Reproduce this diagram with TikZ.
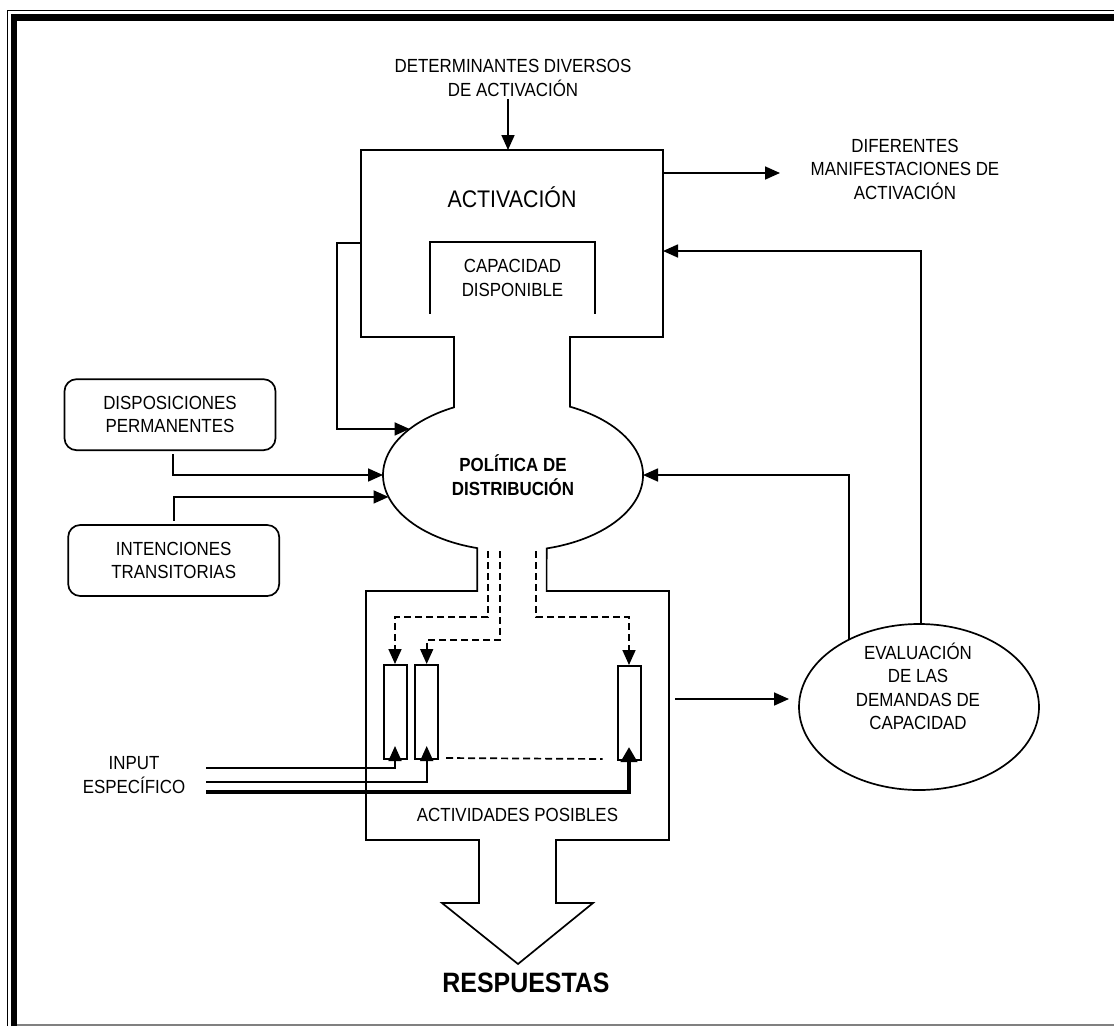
\documentclass[tikz,border=0pt]{standalone}
\usepackage{fontspec}
\setmainfont{Liberation Sans}[FakeStretch=0.89]
\usetikzlibrary{arrows.meta,shapes.geometric}

\begin{document}
\begin{tikzpicture}[x=1pt, y=1pt, line width=1.7pt, every node/.style={font=\fontsize{19}{23.5}\selectfont, align=center, inner sep=2pt}, >={Triangle[length=15pt, width=13pt]}, rbox/.style={draw, rounded corners=12pt, minimum width=211pt, minimum height=71pt}, bar/.style={draw, line width=2pt, minimum width=23pt, minimum height=94pt, inner sep=0pt}, dsh/.style={dash pattern=on 7pt off 4pt}]
	\useasboundingbox (0,0) rectangle (1114,-1026);
	% marco
	\draw[line width=1pt] (7,-1026) -- (7,-10) -- (1114,-10);
	\draw[line width=6.5pt] (14,-1026) -- (14,-17.5) -- (1114,-17.5);
	\draw[line width=1.5pt, gray] (17,-1025) -- (1114,-1025);
	% contorno: activacion, politica, actividades y respuestas
	\draw (361,-150) -- (663,-150) -- (663,-337) -- (570,-337) -- (570,-406.7) arc[start angle=64, end angle=-75, x radius=130, y radius=76] -- (546.6,-591) -- (669,-591) -- (669,-840) -- (556,-840) -- (556,-903) -- (593,-903) -- (518,-964) -- (442,-903) -- (479,-903) -- (479,-840) -- (366,-840) -- (366,-591) -- (477.2,-591) -- (477.2,-548.1) arc[start angle=254, end angle=117, x radius=130, y radius=76] -- (454,-337) -- (361,-337) -- cycle;
	\node (det) at (513,-78) {DETERMINANTES DIVERSOS\\DE ACTIVACIÓN};
	\node[font=\fontsize{24}{28}\selectfont] (act) at (512,-197) {ACTIVACIÓN};
	\node[minimum width=163pt, minimum height=70pt] (cap) at (512.5,-278) {CAPACIDAD\\DISPONIBLE};
	\draw (cap.south west) |- (cap.north east) -- (cap.south east);
	\node (man) at (905,-169) {DIFERENTES\\MANIFESTACIONES DE\\ACTIVACIÓN};
	\node[ellipse, minimum width=260pt, minimum height=152pt, inner sep=0pt, outer sep=0pt, font=\fontsize{19}{23.5}\selectfont\bfseries] (pol) at (513,-475) {POLÍTICA DE\\DISTRIBUCIÓN};
	\node[rbox] (disp) at (170,-414.7) {DISPOSICIONES\\PERMANENTES};
	\node[rbox] (inten) at (173.7,-560.5) {INTENCIONES\\TRANSITORIAS};
	\node[bar] (r1) at (395,-712) {};
	\node[bar] (r2) at (426.7,-712) {};
	\node[bar] (r3) at (629,-713) {};
	\node (inp) at (134,-775) {INPUT\\ESPECÍFICO};
	\node (posib) at (517.5,-815) {ACTIVIDADES POSIBLES};
	\node[font=\fontsize{28}{32}\selectfont\bfseries] (resp) at (526,-983) {RESPUESTAS};
	\node[ellipse, draw, minimum width=240pt, minimum height=166pt, inner sep=0pt, outer sep=0pt] (ev) at (919,-707) {};
	\node (evtxt) at (918,-686.5) {EVALUACIÓN\\DE LAS\\DEMANDAS DE\\CAPACIDAD};
	\coordinate (actTop) at (508,-150);
	\coordinate (actOut) at (663,-173);
	\coordinate (manIn) at (780,-173);
	\coordinate (actFb) at (663,-251);
	\coordinate (actL) at (361,-243);
	\coordinate (posR) at (669,-699);
	% flechas
	\draw[->] (det.south -| actTop) -- (actTop);
	\draw[->] (actOut) -- (manIn);
	\draw[->] ([xshift=2pt]ev.north) |- (actFb);
	\draw[->] (ev.136) |- (pol.east);
	\draw[->] (actL) -- ++(-24,0) |- (pol.156);
	\draw[->, shorten <=3pt] ([xshift=3pt]disp.south) |- (pol.west);
	\draw[->, shorten <=3pt] (inten.north) |- (pol.190);
	\draw[->, shorten <=6pt, shorten >=10pt] (posR) -- (posR -| ev.west);
	\draw[dsh, ->] ([xshift=-25pt]pol.south) -- ++(0,-66) -| (r1.north);
	\draw[dsh, ->] ([xshift=-13pt]pol.south) -- ++(0,-89) -| (r2.north);
	\draw[dsh, ->] ([xshift=23pt]pol.south) -- ++(0,-66) -| (r3.north);
	\draw[dsh] ([xshift=7pt, yshift=2pt]r2.south east) -- ([xshift=-14pt, yshift=2pt]r3.south west);
	\draw[->, shorten <=18pt] (inp.east |- 0,-768) -| ([yshift=14pt]r1.south);
	\draw[->, shorten <=18pt] (inp.east |- 0,-782) -| ([yshift=14pt]r2.south);
	\draw[->, line width=4pt, shorten <=18pt, >={Triangle[length=15pt, width=16pt]}] (inp.east |- 0,-792) -| ([yshift=14pt]r3.south);
\end{tikzpicture}
\end{document}
